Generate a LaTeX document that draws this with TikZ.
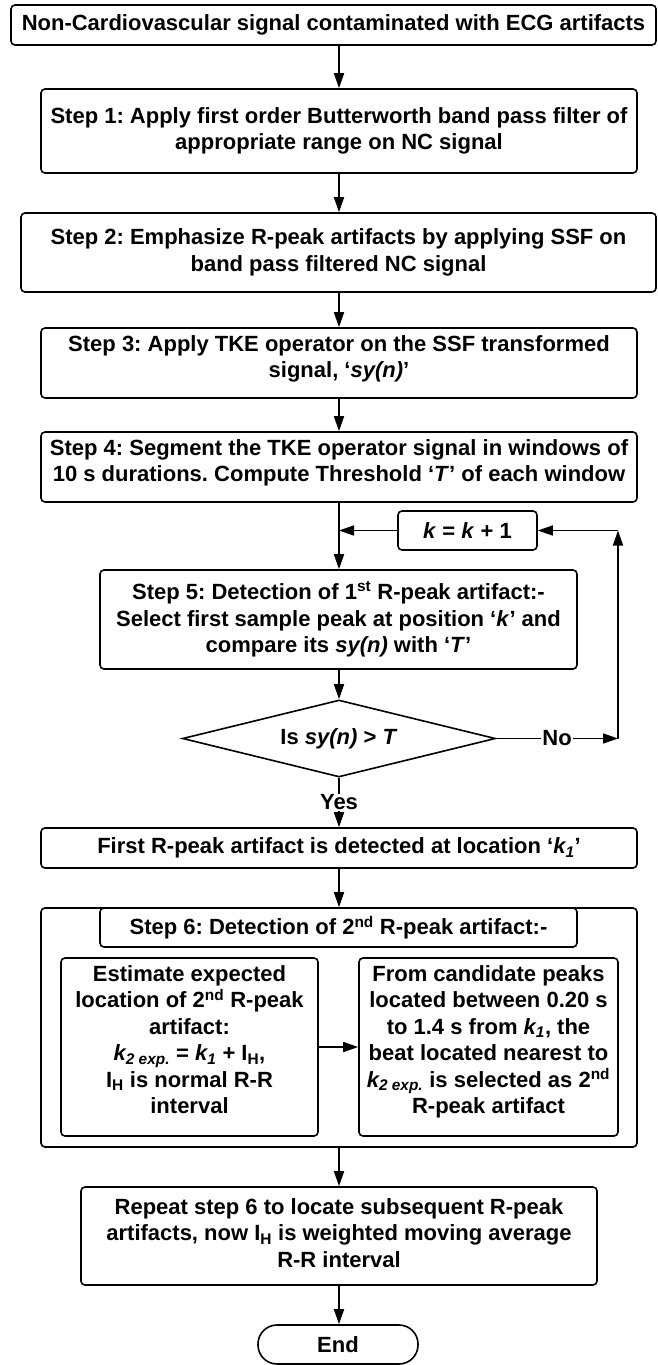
\documentclass[tikz,border=0pt]{standalone}
\usepackage{fontspec}
\setmainfont{Liberation Sans}
\usetikzlibrary{arrows.meta,shapes.geometric}
\newcommand\sups[1]{\textsuperscript{#1}}
\newcommand\subs[1]{\textsubscript{#1}}

\begin{document}
\frenchspacing
\begin{tikzpicture}[x=1pt,y=-1pt,
  every node/.style={font=\fontsize{22}{26.5}\selectfont\bfseries, inner sep=0pt},
  box/.style={draw, line width=1.6pt, rounded corners=4pt, align=center},
  arr/.style={-{Triangle[length=15pt,width=10pt]}, line width=1.6pt},
  lbl/.style={fill=white, inner sep=1pt}]
\useasboundingbox (0,0) rectangle (657,1365);

% main column of steps
\node[box, minimum width=645pt, minimum height=40pt] (top) at (333.5,25)
  {Non-Cardiovascular signal contaminated with ECG artifacts};
\node[box, minimum width=596pt, minimum height=84pt] (s1) at (339,131)
  {Step 1: Apply first order Butterworth band pass filter of\\appropriate range on NC signal};
\node[box, minimum width=635pt, minimum height=79pt] (s2) at (338.5,252.5)
  {Step 2: Emphasize R-peak artifacts by applying SSF on\\band pass filtered NC signal};
\node[box, text depth=13pt, minimum width=596pt, minimum height=70pt] (s3) at (339,363)
  {Step 3: Apply TKE operator on the SSF transformed\\signal, ‘\textit{sy(n)}’};
\node[box, text depth=13pt, minimum width=596pt, minimum height=70pt] (s4) at (339,467)
  {Step 4: Segment the TKE operator signal in windows of\\10 s durations. Compute Threshold ‘\textit{T}’ of each window};
\node[box, minimum width=139pt, minimum height=39pt] (kb) at (467.5,530.5)
  {\textit{k} = \textit{k} + 1};
\node[box, minimum width=477pt, minimum height=99pt] (s5) at (338.5,619.5)
  {Step 5: Detection of 1\sups{st} R-peak artifact:-\\Select first sample peak at position ‘\textit{k}’ and\\compare its \textit{sy(n)} with ‘\textit{T}’};
\node[draw, line width=1.6pt, shape=diamond, aspect=4, minimum width=313pt, minimum height=77pt] (dia) at (339,738.5)
  {Is \textit{sy(n)} > \textit{T}};
\node[box, minimum width=596pt, minimum height=40pt] (first) at (339,848)
  {First R-peak artifact is detected at location ‘\textit{k\subs{1}}’};

% step 6 group
\node[box, minimum width=596pt, minimum height=239pt] (s6) at (339,1027.5) {};
\node[box, fill=white, minimum width=477pt, minimum height=39pt] (s6t) at (338.5,927.5)
  {Step 6: Detection of 2\sups{nd} R-peak artifact:-};
\node[box, text depth=15pt, minimum width=257pt, minimum height=178pt] (li) at (189.5,1047)
  {Estimate expected\\location of 2\sups{nd} R-peak\\artifact:\\\textit{k\subs{2 exp.}} = \textit{k\subs{1}} + I\subs{H},\\I\subs{H} is normal R-R\\interval};
\node[box, text depth=15pt, minimum width=259pt, minimum height=178pt] (ri) at (488.5,1047)
  {From candidate peaks\\located between 0.20 s\\to 1.4 s from \textit{k\subs{1}}, the\\beat located nearest to\\\textit{k\subs{2 exp.}} is selected as 2\sups{nd}\\R-peak artifact};

\node[box, text depth=6pt, minimum width=516pt, minimum height=98pt] (rep) at (339,1236)
  {Repeat step 6 to locate subsequent R-peak\\artifacts, now I\subs{H} is weighted moving average\\R-R interval};
\node[box, rounded corners=19pt, minimum width=160pt, minimum height=39pt] (end) at (338,1344.5) {End};

% loop corners
\coordinate (j) at (339,530.5);
\coordinate (c1) at (618,738.5);
\coordinate (c2) at (618,530.5);

% connectors
\draw[arr] (top.south -| s1.north) -- (s1.north);
\draw[arr] (s1.south) -- (s1.south |- s2.north);
\draw[arr] (s1.south |- s2.south) -- (s3.north);
\draw[arr] (s3.south) -- (s4.north);
\draw[arr] (s4.south) -- (s4.south |- s5.north);
\draw[arr] (kb.west) -- (j);
\draw[arr] (s5.south -| dia.north) -- (dia.north);
\draw[arr] (dia.east) -- node[lbl]{No} (c1);
\draw[arr] (c1) -- (c2);
\draw[arr] (c2) -- (kb.east);
\draw[arr] (dia.south) -- node[lbl]{Yes} (first.north);
\draw[arr] (first.south) -- (s6.north);
\draw[arr] (li.east) -- (ri.west);
\draw[arr] (s6.south) -- (rep.north);
\draw[arr] (rep.south) -- (rep.south |- end.north);
\end{tikzpicture}
\end{document}
